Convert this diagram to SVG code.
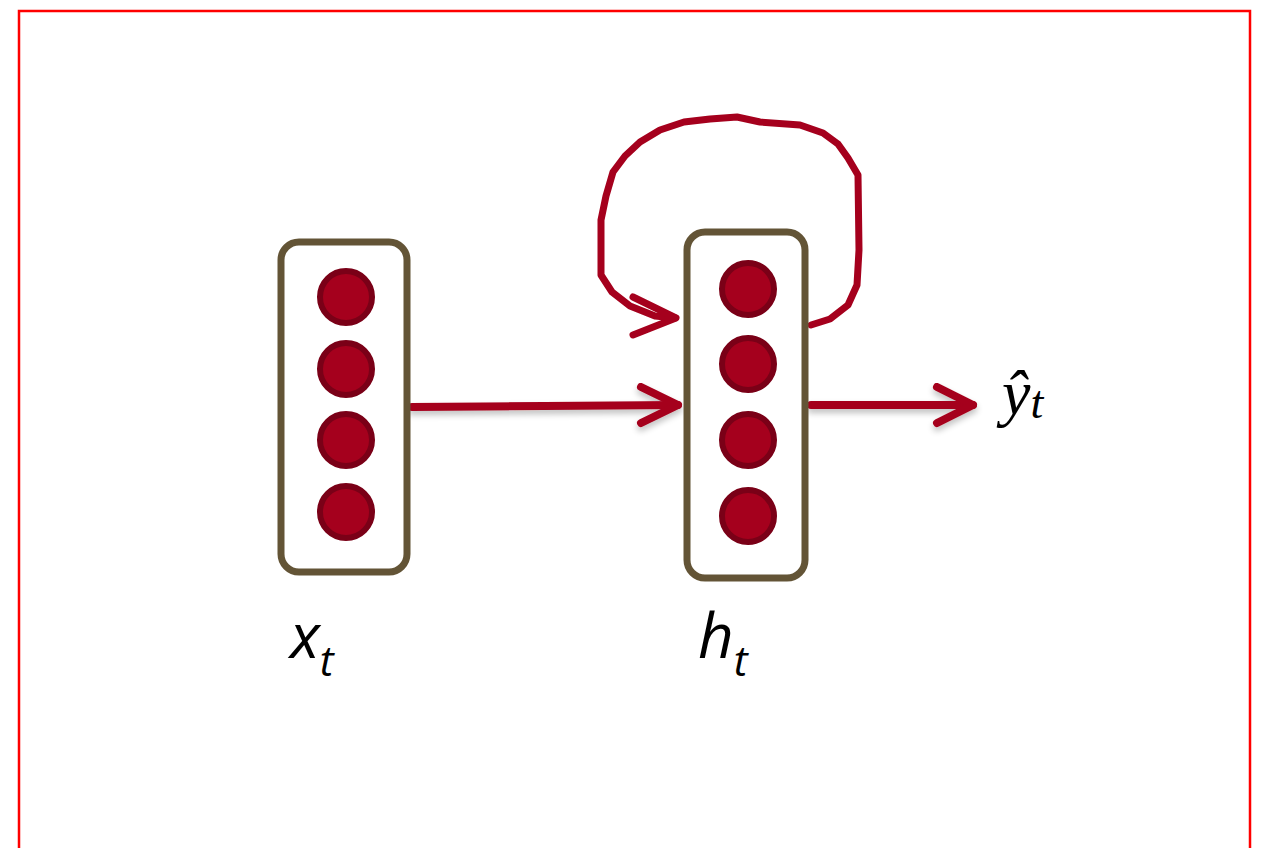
<svg xmlns="http://www.w3.org/2000/svg" width="1261" height="848" viewBox="0 0 1261 848">
<defs>
<filter id="sh" x="-20%" y="-20%" width="140%" height="160%">
<feGaussianBlur in="SourceAlpha" stdDeviation="3"/>
<feOffset dx="0" dy="4" result="b"/>
<feComponentTransfer><feFuncA type="linear" slope="0.25"/></feComponentTransfer>
<feMerge><feMergeNode/><feMergeNode in="SourceGraphic"/></feMerge>
</filter>
</defs>
<style>
.box{fill:#fff;stroke:#635436;stroke-width:7}
.unit{fill:#a5001d;stroke:#7a0017;stroke-width:6}
.conn{fill:none;stroke:#a5001d;stroke-width:8;stroke-linecap:round;stroke-linejoin:round}
.loop{fill:none;stroke:#a5001d;stroke-width:7;stroke-linecap:round;stroke-linejoin:round}
.lbl{font-family:"Open Sans","Liberation Sans",sans-serif;font-style:italic;fill:#000}
.math{font-family:"Liberation Serif","DejaVu Serif",serif;font-style:italic;fill:#000}
</style>
<rect x="0" y="0" width="1261" height="848" fill="#fff"/>
<rect x="19" y="11" width="1231" height="850" fill="none" stroke="#ff0000" stroke-width="2.5"/>
<g id="connectors">
<g filter="url(#sh)">
<path class="conn" d="M412,407 L545,406 L678,405"/>
<path class="conn" d="M641,387 L678,405 L641,423"/>
<path class="conn" d="M811,405 L973,405"/>
<path class="conn" d="M937,387 L973,405 L937,423"/>
</g>
<path class="loop" d="M811,325 L830,319 L848,305 L857,285 L859,250 L858,175 L848,158 L838,144 L823,133 L800,125 L760,122 L737,117 L710,119 L684,122 L660,130 L640,142 L625,156 L613,172 L606,196 L601,220 L601,275 L612,292 L630,306 L655,316 L675,318"/>
<path class="loop" d="M633,297 L676,318 L633,335" stroke-width="8"/>
</g>
<g id="node-x">
<rect class="box" x="281" y="242" width="126" height="330" rx="18"/>
<circle class="unit" cx="346" cy="297" r="26"/>
<circle class="unit" cx="346" cy="369" r="26"/>
<circle class="unit" cx="346" cy="440" r="26"/>
<circle class="unit" cx="346" cy="512" r="26"/>
</g>
<g id="node-h">
<rect class="box" x="687" y="232" width="118" height="346" rx="18"/>
<circle class="unit" cx="748" cy="289" r="26"/>
<circle class="unit" cx="748" cy="364" r="26"/>
<circle class="unit" cx="748" cy="440" r="26"/>
<circle class="unit" cx="748" cy="516" r="26"/>
</g>
<g id="label-x"><text class="lbl" x="290" y="658" font-size="62">x<tspan font-size="42" dy="18">t</tspan></text></g>
<g id="label-h"><text class="lbl" x="698" y="658" font-size="62">h<tspan font-size="42" dy="18">t</tspan></text></g>
<g id="label-y"><text class="math" x="1002" y="414" font-size="64">ŷ<tspan font-size="46" dy="4">t</tspan></text></g>
</svg>
